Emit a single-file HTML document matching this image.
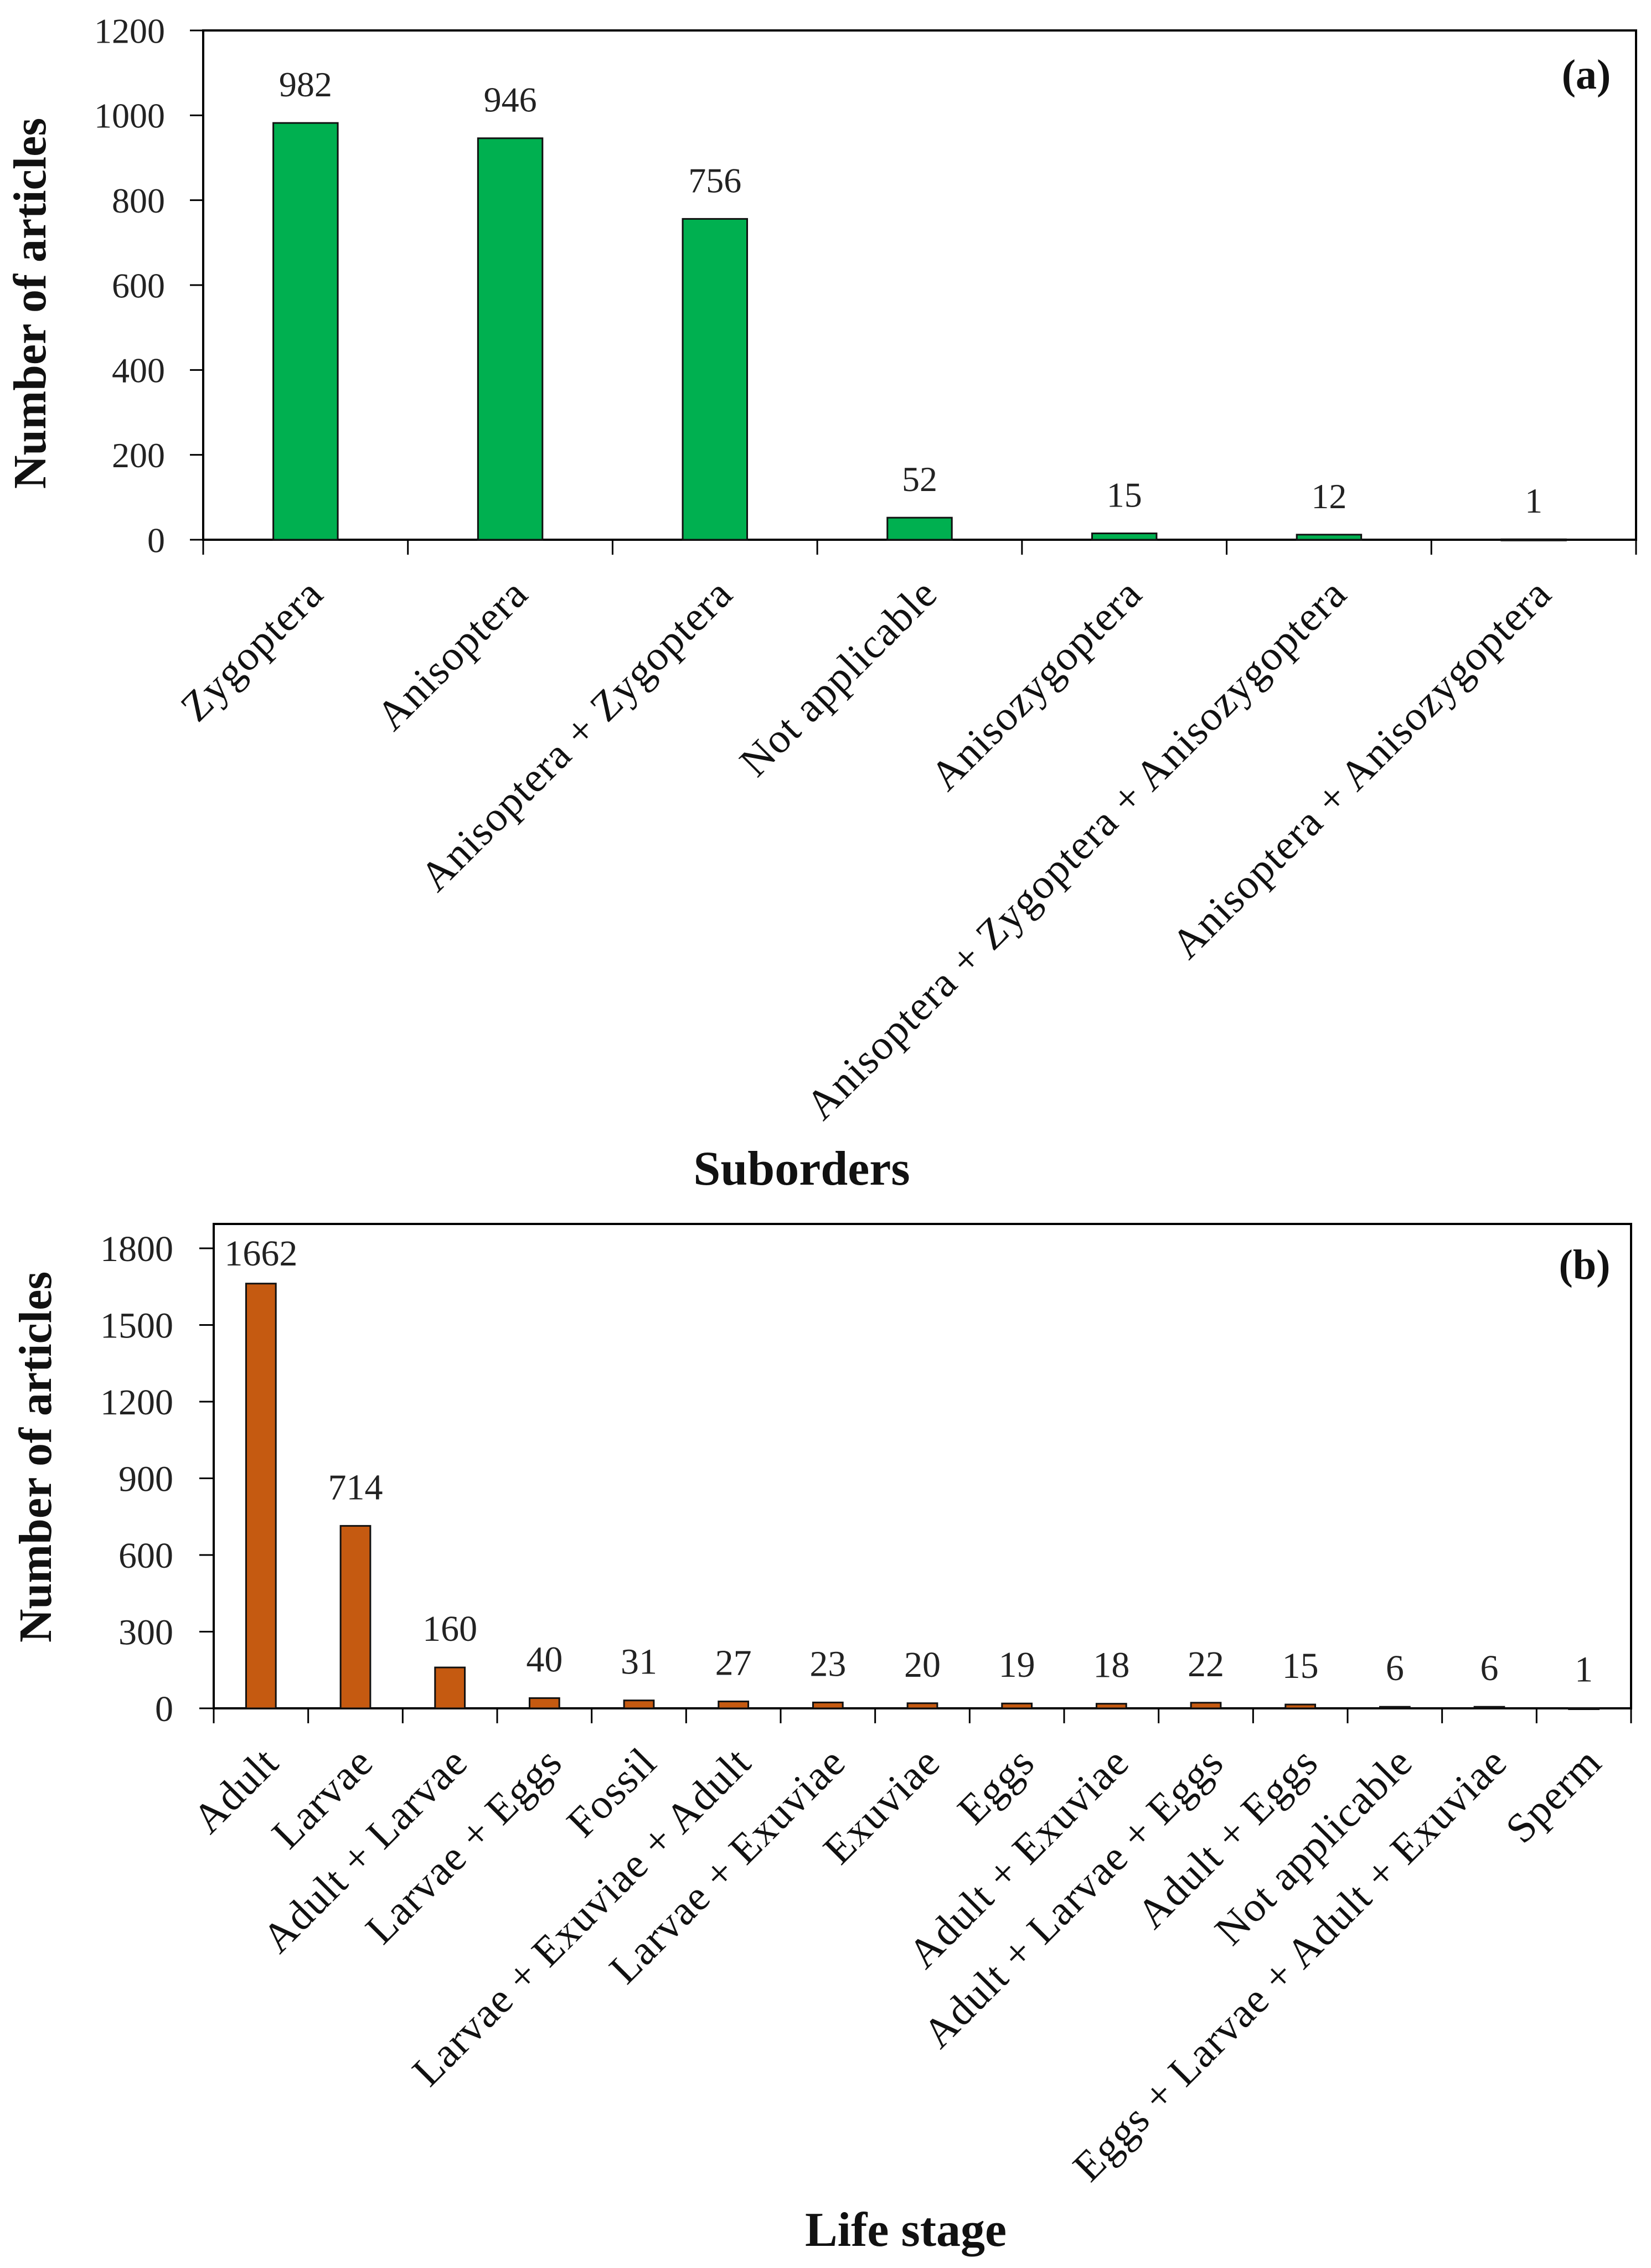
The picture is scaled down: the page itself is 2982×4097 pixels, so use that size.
<!DOCTYPE html>
<html><head><meta charset="utf-8"><style>
html,body{margin:0;padding:0;background:#fff;}
svg, svg text{font-family:"Liberation Serif","DejaVu Serif",serif;}
</style></head><body>
<svg id="fig" width="2982" height="4092" viewBox="0 0 2982 4092" xmlns="http://www.w3.org/2000/svg" font-family="Liberation Serif, serif">
<rect width="2982" height="4092" fill="#fff"/>
<g id="chartA"></g>
<g id="chartB"></g>
</svg>
<script>
const subordersCategories = ["Zygoptera","Anisoptera","Anisoptera + Zygoptera","Not applicable","Anisozygoptera","Anisoptera + Zygoptera + Anisozygoptera","Anisoptera + Anisozygoptera"];
const subordersValues = [982,946,756,52,15,12,1];
const subordersTicks = [0,200,400,600,800,1000,1200];

const lifeStageCategories = ["Adult","Larvae","Adult + Larvae","Larvae + Eggs","Fossil","Larvae + Exuviae + Adult","Larvae + Exuviae","Exuviae","Eggs","Adult + Exuviae","Adult + Larvae + Eggs","Adult + Eggs","Not applicable","Eggs + Larvae + Adult + Exuviae","Sperm"];
const lifeStageValues = [1662,714,160,40,31,27,23,20,19,18,22,15,6,6,1];
const lifeStageTicks = [0,300,600,900,1200,1500,1800];

const NS = "http://www.w3.org/2000/svg";
const FONT = "'Liberation Serif', 'DejaVu Serif', serif";
function mk(parent, tag, attrs, text){
  const e = document.createElementNS(NS, tag);
  for (const k in attrs) e.setAttribute(k, attrs[k]);
  if (text !== undefined) { e.textContent = text; e.setAttribute("font-family", FONT); e.style.fontFamily = FONT; }
  parent.appendChild(e);
  return e;
}

function drawChart(g, cfg){
  const {left,right,top,frameTop,y0,yMax,cats,vals,ticks,color,tickFont,labelFont,tickLabelRight,tickLen,title,titleX,titleY,xTitle,xTitleX,xTitleY,panel,panelX,panelY,key} = cfg;
  const yScale = v => y0 - v / yMax * (y0 - top);
  const band = (right - left) / cats.length;
  const xCenter = i => left + band * (i + 0.5);
  const barW = band * 0.315;

  let f = mk(g, "rect", {x:left, y:frameTop, width:right-left, height:y0-frameTop, fill:"none", stroke:"#000", "stroke-width":4});
  
  

  ticks.forEach(t => {
    const y = yScale(t);
    let l = mk(g, "line", {x1:left - tickLen, x2:left, y1:y, y2:y, stroke:"#000", "stroke-width":3});
    
    
    let tx = mk(g, "text", {x:tickLabelRight, y:y + tickFont*0.35, "font-size":tickFont, "text-anchor":"end", fill:"#222"}, String(t));
    
    
  });

  for (let i = 0; i <= cats.length; i++){
    const x = left + band * i;
    let l = mk(g, "line", {x1:x, x2:x, y1:y0, y2:y0 + 27, stroke:"#000", "stroke-width":3});
    
    
  }

  vals.forEach((v, i) => {
    const cx = xCenter(i);
    const y = yScale(v);
    let b = mk(g, "rect", {x:cx - barW/2, y:y, width:barW, height:Math.max(y0 - y, 2), fill:color, stroke:"#111", "stroke-width":3});
    
    
    let vl = mk(g, "text", {x:cx, y:Math.max(y - 48, frameTop + 75), "font-size":tickFont, "text-anchor":"middle", fill:"#222"}, String(v));
    
    
  });

  cats.forEach((c, i) => {
    const ax = xCenter(i) + 36, ay = y0 + 102;
    let t = mk(g, "text", {x:ax, y:ay, "font-size":labelFont, "text-anchor":"end", fill:"#111", transform:"rotate(-45 " + ax + " " + ay + ")", "letter-spacing":"1.5"}, c);
    
    
  });

  let yt = mk(g, "text", {x:titleX, y:titleY, "font-size":84, "font-weight":"bold", "text-anchor":"middle", fill:"#111", transform:"rotate(-90 " + titleX + " " + titleY + ")"}, title);
  
  
  let xt = mk(g, "text", {x:xTitleX, y:xTitleY, "font-size":88, "font-weight":"bold", "text-anchor":"middle", fill:"#111"}, xTitle);
  
  
  let pl = mk(g, "text", {x:panelX, y:panelY, "font-size":76, "font-weight":"bold", "text-anchor":"middle", fill:"#111"}, panel);
  
  
}

drawChart(document.getElementById("chartA"), {
  key:"suborders", left:367, right:2955, top:55, frameTop:55, y0:975, yMax:1200,
  cats:subordersCategories, vals:subordersValues, ticks:subordersTicks, color:"#00b050",
  tickFont:64, labelFont:76, tickLabelRight:298, tickLen:24,
  title:"Number of articles", titleX:82, titleY:548,
  xTitle:"Suborders", xTitleX:1448, xTitleY:2140,
  panel:"(a)", panelX:2865, panelY:160
});
drawChart(document.getElementById("chartB"), {
  key:"life-stage", left:386, right:2946, top:2255, frameTop:2211, y0:3086, yMax:1800,
  cats:lifeStageCategories, vals:lifeStageValues, ticks:lifeStageTicks, color:"#c55a11",
  tickFont:66, labelFont:76, tickLabelRight:313, tickLen:26,
  title:"Number of articles", titleX:92, titleY:2632,
  xTitle:"Life stage", xTitleX:1636, xTitleY:4057,
  panel:"(b)", panelX:2862, panelY:2310
});
</script>
</body></html>
